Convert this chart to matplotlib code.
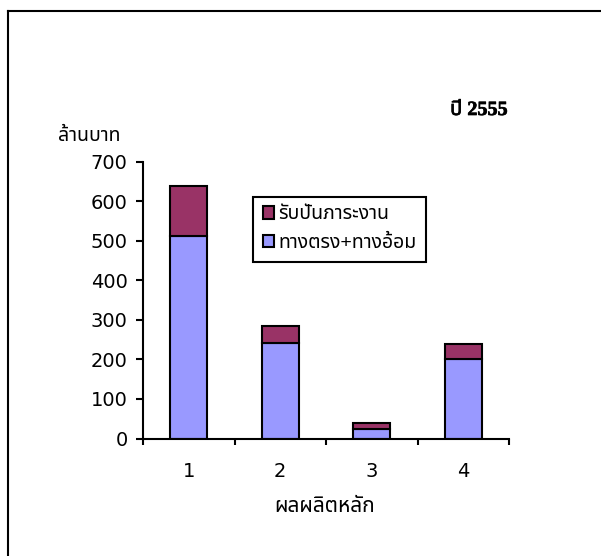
import matplotlib
matplotlib.use("Agg")
import matplotlib.pyplot as plt
import matplotlib.patheffects as pe
from matplotlib import font_manager, ft2font
from matplotlib.patches import Patch
from matplotlib.lines import Line2D

# ── data ──────────────────────────────────────────────────────────────────
categories = ["1", "2", "3", "4"]
direct_indirect = [512, 242, 25, 200]   # ทางตรง+ทางอ้อม
workload_share = [125, 42, 13, 39]      # รับปันภาระงาน
series_names = ["รับปันภาระงาน", "ทางตรง+ทางอ้อม"]
y_ticks = [0, 100, 200, 300, 400, 500, 600, 700]

BLUE = "#9999FF"
PURPLE = "#993366"


def find_thai_font():
    """Return the family name of an installed font that has Thai glyphs."""
    found = []
    for f in font_manager.fontManager.ttflist:
        try:
            cmap = ft2font.FT2Font(f.fname).get_charmap()
        except Exception:
            continue
        if 0x0E01 in cmap and 0x0E49 in cmap:
            found.append(f.name)
    for pref in ("Noto Sans Thai", "Noto Sans Thai UI", "Loma", "Garuda", "Tlwg Typo"):
        if pref in found:
            return pref
    return found[0] if found else "DejaVu Sans"


THAI = find_thai_font()
SANS = ["Liberation Sans", THAI, "DejaVu Sans"]
SERIF = ["Liberation Serif", THAI, "DejaVu Serif"]
DIGITS = ["DejaVu Sans"]

fig = plt.figure(figsize=(6.01, 5.56), dpi=100)
W, H = 601, 556
ax = fig.add_axes([143 / W, 1 - 438.5 / H, (509 - 143) / W, (438.5 - 161.5) / H])

x = list(range(1, len(categories) + 1))
ax.bar(x, direct_indirect, width=0.4, color=BLUE, edgecolor="black", linewidth=1.5, zorder=2)
ax.bar(x, workload_share, width=0.4, bottom=direct_indirect, color=PURPLE,
       edgecolor="black", linewidth=1.5, zorder=2)

ax.set_xlim(0.5, len(categories) + 0.5)
ax.set_ylim(0, 700)
ax.set_yticks(y_ticks)
ax.set_yticklabels([str(v) for v in y_ticks], family=DIGITS, fontsize=14)
ax.set_xticks(x)
ax.set_xticklabels(categories, family=DIGITS, fontsize=14)
ax.tick_params(axis="x", length=0, pad=17)
ax.set_xticks([v + 0.5 for v in range(len(categories) + 1)], minor=True)
ax.tick_params(axis="x", which="minor", length=4.5, width=1.5, direction="out")
ax.tick_params(axis="y", length=5, width=1.5, direction="out", pad=6)

for side in ("top", "right"):
    ax.spines[side].set_visible(False)
for side in ("left", "bottom"):
    ax.spines[side].set_linewidth(1.5)

# legend
handles = [
    Patch(facecolor=PURPLE, edgecolor="black", linewidth=1.5),
    Patch(facecolor=BLUE, edgecolor="black", linewidth=1.5),
]
leg = ax.legend(handles, series_names, loc="upper left",
                bbox_to_anchor=((253 - 143) / (509 - 143), 1 - (196.5 - 161.5) / (438.5 - 161.5)),
                prop={"family": SANS, "size": 14}, frameon=True, fancybox=False,
                framealpha=1, handlelength=0.6, handleheight=0.6, handletextpad=0.2,
                borderpad=0.5, labelspacing=0.6, borderaxespad=0)
leg.get_frame().set_edgecolor("black")
leg.get_frame().set_linewidth(1.5)

# texts
fig.text(479 / W, 1 - 110 / H, "ปี 2555", family=SERIF, fontsize=14.5, fontweight="bold",
         ha="center", va="center",
         path_effects=[pe.withStroke(linewidth=0.5, foreground="black")])
fig.text(58 / W, 1 - 136 / H, "ล้านบาท", family=SANS, fontsize=14, ha="left", va="center")
fig.text(325 / W, 1 - 507 / H, "ผลผลิตหลัก", family=SANS, fontsize=15, ha="center", va="center")

# outer frame (left and top edges visible)
fig.add_artist(Line2D([7.5 / W, 7.5 / W], [0, 1 - 10.5 / H], transform=fig.transFigure,
                      color="black", linewidth=1.5))
fig.add_artist(Line2D([7.5 / W, 1], [1 - 10.5 / H, 1 - 10.5 / H], transform=fig.transFigure,
                      color="black", linewidth=1.5))

fig.savefig("out.png", dpi=100, facecolor="white")
